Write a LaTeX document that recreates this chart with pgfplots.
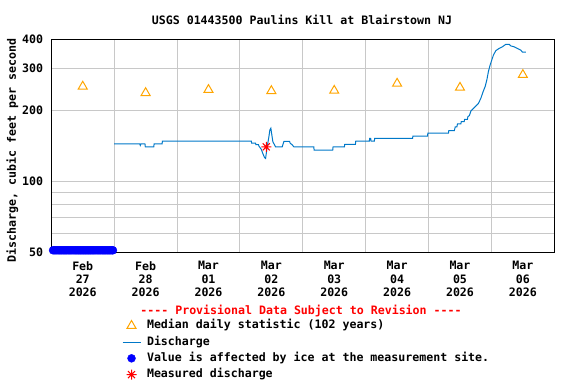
\documentclass[border=0pt]{standalone}
\usepackage{fontspec}
\setmainfont{DejaVu Sans Mono}[BoldFont={DejaVu Sans Mono Bold}, Ligatures=TeXOff]
\usepackage{pgfplots}
\pgfplotsset{compat=1.18}
\definecolor{qline}{RGB}{0,120,200}
\definecolor{icecol}{RGB}{0,0,255}
\definecolor{medcol}{RGB}{255,165,0}
\definecolor{gridgray}{RGB}{200,200,200}
\newcommand{\uf}{\fontsize{11.6bp}{13.3bp}\selectfont\bfseries}
\pgfdeclareplotmark{usgsstar}{%
  \pgfpathmoveto{\pgfqpoint{-\pgfplotmarksize}{0pt}}\pgfpathlineto{\pgfqpoint{\pgfplotmarksize}{0pt}}%
  \pgfpathmoveto{\pgfqpoint{0pt}{-\pgfplotmarksize}}\pgfpathlineto{\pgfqpoint{0pt}{\pgfplotmarksize}}%
  \pgfpathmoveto{\pgfqpoint{-0.707\pgfplotmarksize}{-0.707\pgfplotmarksize}}\pgfpathlineto{\pgfqpoint{0.707\pgfplotmarksize}{0.707\pgfplotmarksize}}%
  \pgfpathmoveto{\pgfqpoint{-0.707\pgfplotmarksize}{0.707\pgfplotmarksize}}\pgfpathlineto{\pgfqpoint{0.707\pgfplotmarksize}{-0.707\pgfplotmarksize}}%
  \pgfusepathqstroke}
\begin{document}
\begin{tikzpicture}
\useasboundingbox (0,0) rectangle (576bp,384bp);
\begin{axis}[
  at={(51.3bp,131.7bp)}, anchor=south west,
  scale only axis, width=503bp, height=213bp,
  xmin=0, xmax=8, ymode=log, ymin=50, ymax=400,
  xtick={0.5,1.5,2.5,3.5,4.5,5.5,6.5,7.5},
  xticklabels={{Feb\\27\\2026},{Feb\\28\\2026},{Mar\\01\\2026},{Mar\\02\\2026},{Mar\\03\\2026},{Mar\\04\\2026},{Mar\\05\\2026},{Mar\\06\\2026}},
  minor xtick={1,2,3,4,5,6,7},
  xminorgrids=true, xmajorgrids=false,
  ytick={50,100,200,300,400}, yticklabels={50,100,200,300,400},
  minor ytick={60,70,80,90},
  ymajorgrids=true, yminorgrids=true,
  major tick length=0pt, minor tick length=0pt,
  grid style={line width=1bp, draw=gridgray},
  major grid style={line width=1bp, draw=gridgray},
  minor grid style={line width=1bp, draw=gridgray},
  axis line style={line width=1bp, black},
  /pgf/number format/assume math mode=true,
  tick label style={font=\uf, inner sep=0pt},
  xticklabel style={align=center, yshift=-8.9bp},
  yticklabel style={xshift=-8bp},
  clip=false,
  legend image code/.code={\draw[mark repeat=2,mark phase=2,#1] plot coordinates {(0bp,0bp)(9bp,0bp)(18bp,0bp)};},
  legend cell align=left,
  legend style={draw=none, fill=none, at={(0.1406,-0.318)}, anchor=north west,
    font=\uf, inner sep=0pt, outer sep=0pt, row sep=4.9bp, column sep=6bp,
    nodes={inner sep=0pt, text height=8.8bp, text depth=2.6bp}},
]
\addplot[only marks, mark=triangle, mark size=5.2bp, draw=medcol, line width=1bp, mark options={solid}]
coordinates {(0.5,252.4)(1.5,237)(2.5,244.3)(3.5,241.6)(4.5,242.4)(5.5,259.7)(6.5,249.6)(7.5,282.7)};
\addlegendentry{Median daily statistic (102 years)}
\addplot[qline, line width=1bp, no marks] coordinates {
(1.000,144) (1.408,144) (1.415,142) (1.425,144) (1.490,144) (1.495,140) (1.630,140) (1.635,144) (1.762,144) (1.767,148)
(3.181,148) (3.186,145) (3.249,145) (3.254,143) (3.295,143) (3.302,141) (3.340,136.6) (3.365,131) (3.392,126) (3.408,125)
(3.435,140.8) (3.460,154) (3.476,165) (3.492,168) (3.508,157) (3.524,147) (3.551,142.7) (3.567,140) (3.673,140) (3.683,143)
(3.700,147.7) (3.789,147.7) (3.800,145) (3.832,142.7) (3.857,140) (4.175,140) (4.180,135.5) (4.476,135.5) (4.481,140)
(4.662,140) (4.667,143.5) (4.837,143.5) (4.842,148) (5.059,148) (5.064,152) (5.080,152) (5.085,148) (5.138,148) (5.143,152)
(5.746,152) (5.751,155.5) (5.984,155.5) (5.989,160) (6.317,160) (6.322,164) (6.410,164) (6.424,170) (6.450,170) (6.460,175)
(6.514,175) (6.520,179) (6.567,179) (6.572,183) (6.619,183) (6.625,188) (6.650,190) (6.673,198.5) (6.741,207) (6.794,214)
(6.832,225) (6.868,240) (6.900,252) (6.927,269) (6.952,292) (6.979,311) (7.006,327) (7.032,343) (7.070,358) (7.122,366)
(7.175,372) (7.229,381) (7.281,381) (7.308,375) (7.360,372) (7.413,366) (7.467,360) (7.492,353) (7.546,353)};
\addlegendentry{Discharge}
\addplot[only marks, mark=*, mark size=4bp, color=icecol] coordinates {
(0.028,51)(0.048,51)(0.068,51)(0.088,51)(0.108,51)(0.128,51)(0.148,51)(0.168,51)(0.188,51)(0.208,51)
(0.228,51)(0.248,51)(0.268,51)(0.288,51)(0.308,51)(0.328,51)(0.348,51)(0.368,51)(0.388,51)(0.408,51)
(0.428,51)(0.448,51)(0.468,51)(0.488,51)(0.508,51)(0.528,51)(0.548,51)(0.568,51)(0.588,51)(0.608,51)
(0.628,51)(0.648,51)(0.668,51)(0.688,51)(0.708,51)(0.728,51)(0.748,51)(0.768,51)(0.788,51)(0.808,51)
(0.828,51)(0.848,51)(0.868,51)(0.888,51)(0.908,51)(0.928,51)(0.948,51)(0.968,51)(0.980,51)};
\addlegendentry{Value is affected by ice at the measurement site.}
\addplot[only marks, mark=usgsstar, mark size=5bp, color=red, line width=1bp] coordinates {(3.419,140)};
\addlegendentry{Measured discharge}
\end{axis}
\node[font=\uf, anchor=base] at (302bp,359.8bp) {USGS 01443500 Paulins Kill at Blairstown NJ};
\node[font=\uf, anchor=base, rotate=90] at (15.8bp,233.5bp) {Discharge, cubic feet per second};
\node[font=\uf, anchor=base, text=red] at (301bp,69.1bp) {---- Provisional Data Subject to Revision ----};
\end{tikzpicture}
\end{document}
